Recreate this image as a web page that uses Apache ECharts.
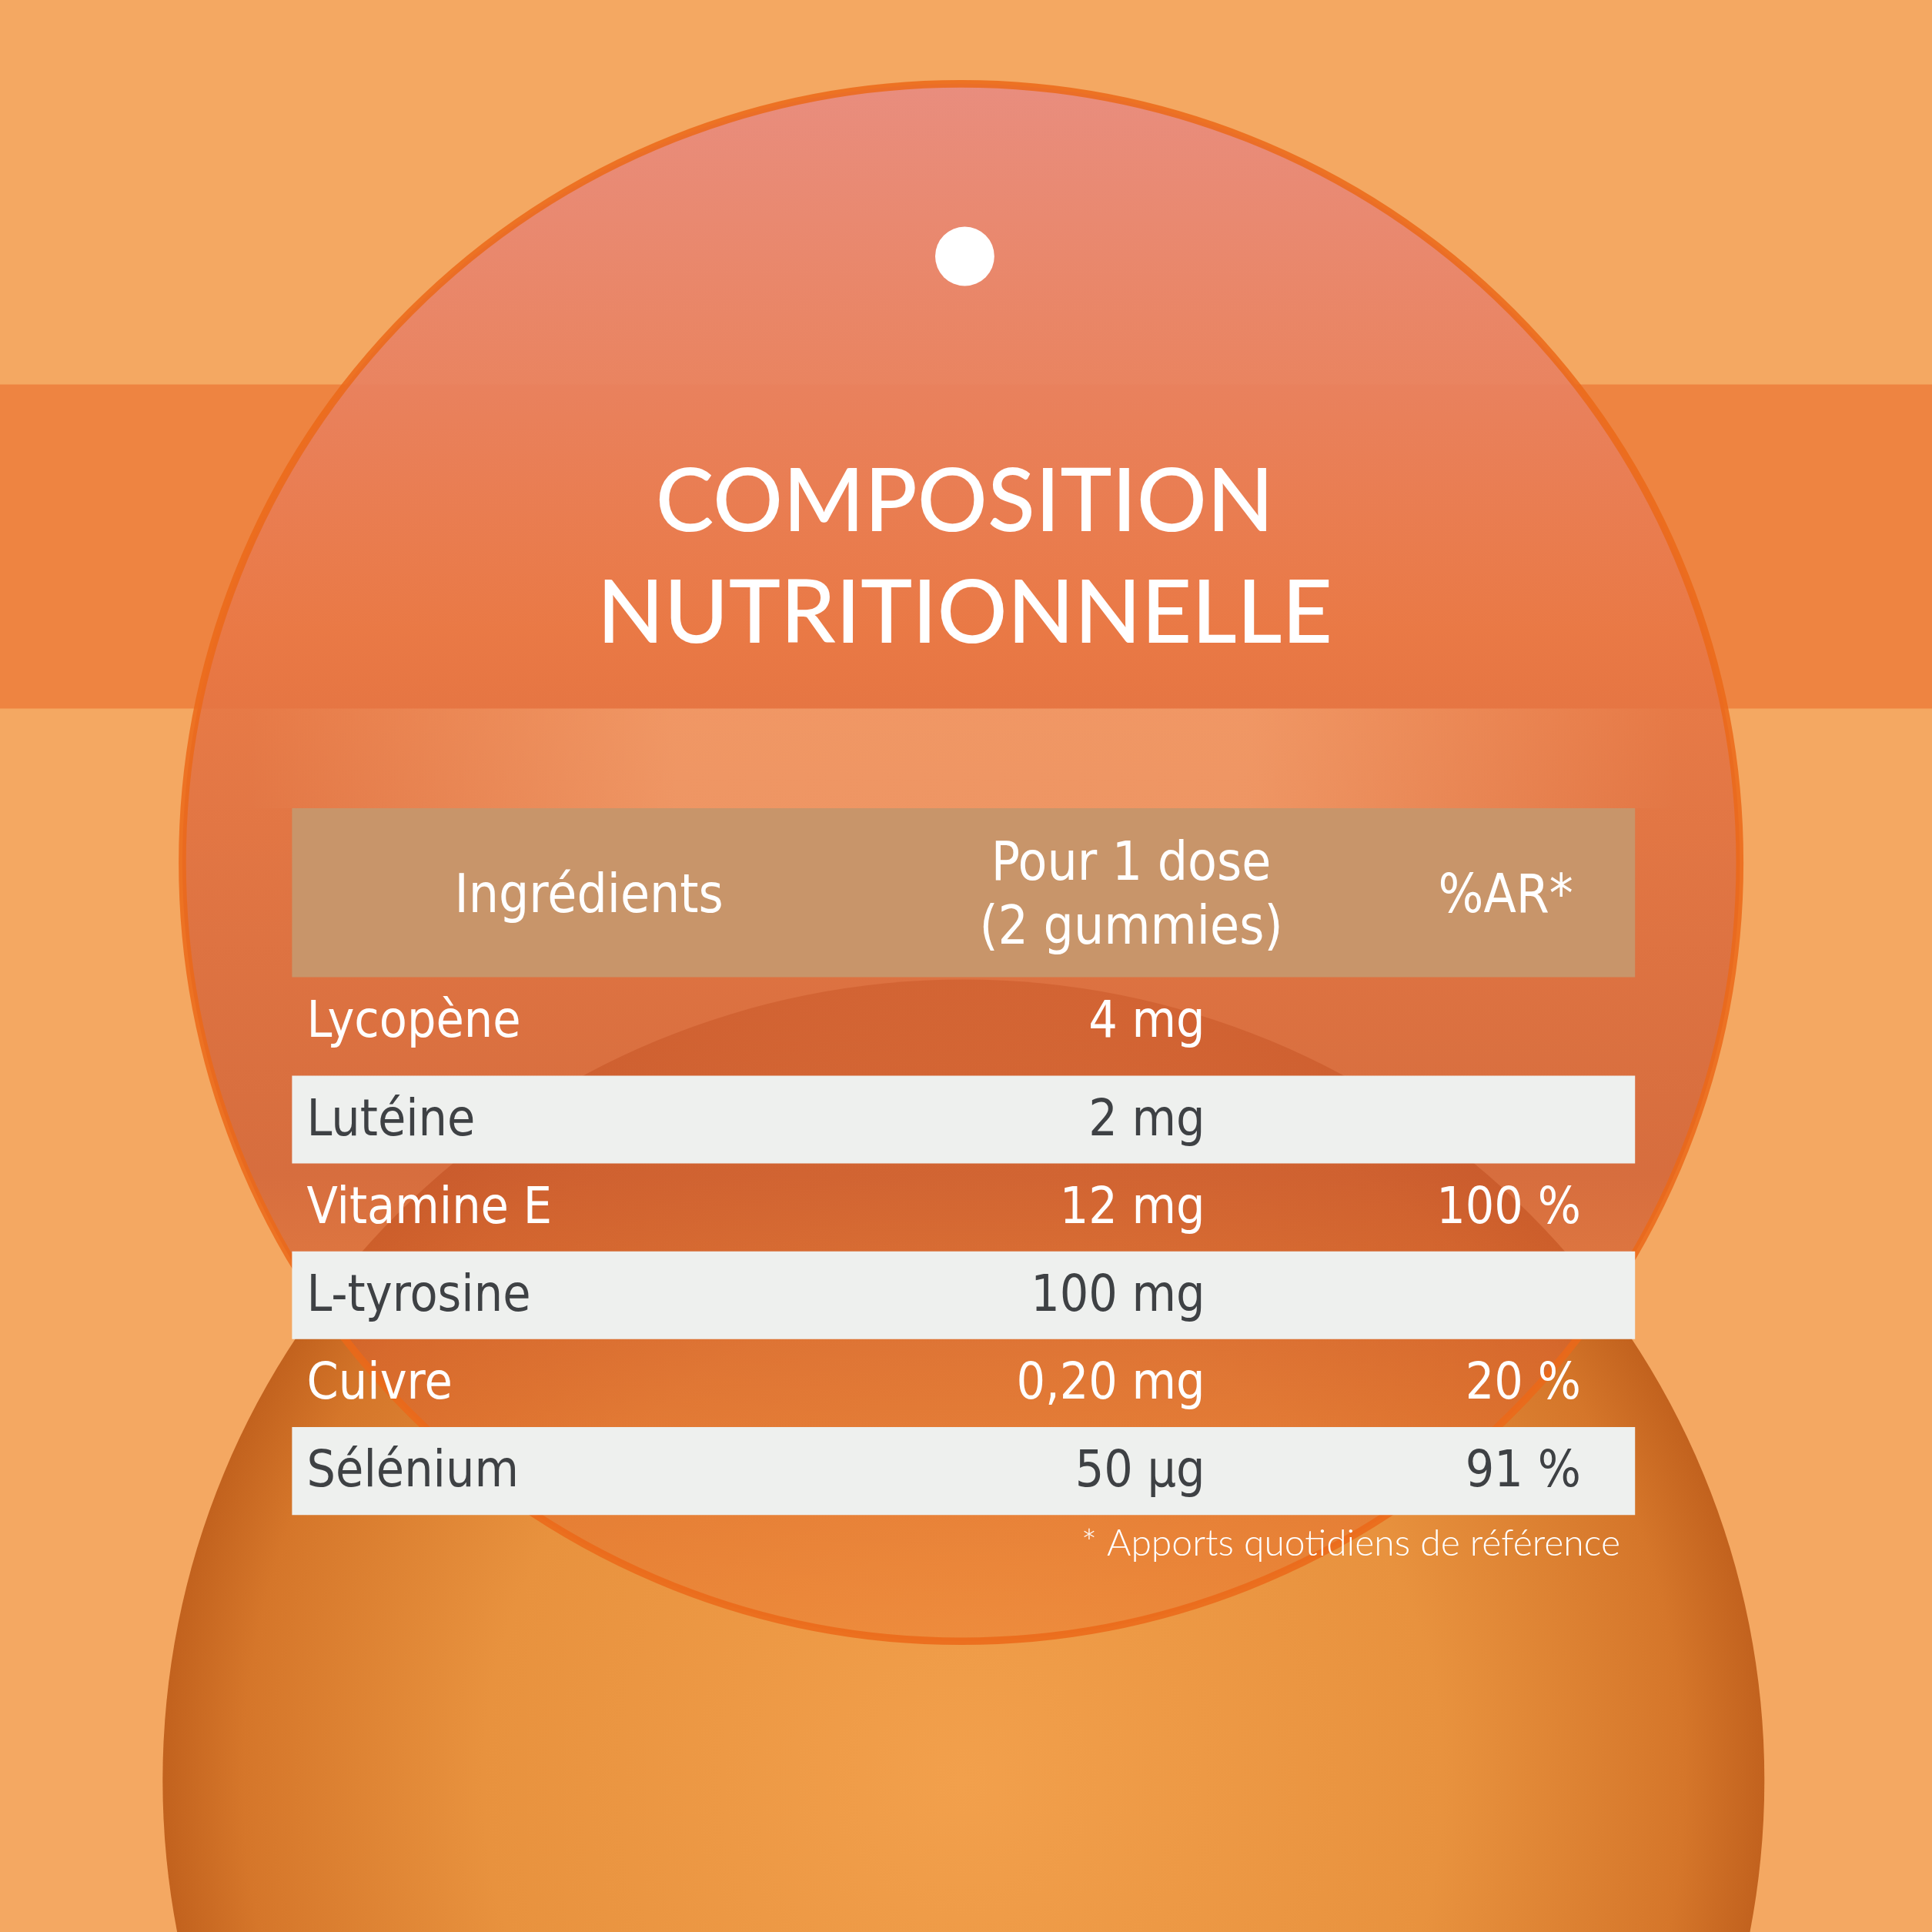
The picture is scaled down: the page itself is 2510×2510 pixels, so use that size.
<!DOCTYPE html>
<html><head><meta charset="utf-8">
<script src="https://cdn.jsdelivr.net/npm/echarts@6/dist/echarts.min.js"></script>
<style>html,body{margin:0;padding:0;background:#F4A862}#c{width:2510px;height:2510px}</style>
</head><body><div id="c"></div>
<script>
const titleLines = ['COMPOSITION', 'NUTRITIONNELLE'];
const headers = ['Ingrédients', 'Pour 1 dose\n(2 gummies)', '%AR*'];
const ingredients = ['Lycopène', 'Lutéine', 'Vitamine E', 'L-tyrosine', 'Cuivre', 'Sélénium'];
const amounts = ['4 mg', '2 mg', '12 mg', '100 mg', '0,20 mg', '50 µg'];
const percentAR = ['', '', '100 %', '', '20 %', '91 %'];
const footnote = '* Apports quotidiens de référence';

const s = 2510 / 1568;
const S = v => v * s;
const font = '"Liberation Sans Narrow","DejaVu Sans Condensed",sans-serif';
const g = [];
g.push({type:'rect', shape:{x:0,y:0,width:2510,height:2510}, style:{fill:'#F4A862'}});
g.push({type:'circle', shape:{cx:S(782), cy:S(1445), r:S(650)}, style:{fill:{type:'radial',x:0.5,y:0.5,r:0.5,colorStops:[
  {offset:0,color:'#F2A04C'},{offset:0.6,color:'#E8923E'},{offset:0.9,color:'#D5762A'},{offset:1,color:'#C2621E'}]}}});
g.push({type:'rect', shape:{x:0,y:S(312),width:2510,height:S(263)}, style:{fill:'rgba(236,120,55,0.75)'}});
g.push({type:'circle', shape:{cx:S(780), cy:S(700), r:S(632)}, style:{fill:{type:'linear',x:0,y:0,x2:0,y2:1,colorStops:[
  {offset:0,color:'rgba(232,140,128,0.95)'},{offset:0.35,color:'rgba(233,120,70,0.9)'},{offset:0.7,color:'rgba(205,90,50,0.75)'},{offset:1,color:'rgba(235,110,40,0.35)'}]},
  stroke:'rgba(235,105,25,0.85)', lineWidth:S(6)}});
g.push({type:'rect', shape:{x:S(200),y:S(575),width:S(1160),height:S(81)}, style:{fill:{type:'linear',x:0,y:0,x2:1,y2:0,colorStops:[
  {offset:0,color:'rgba(248,175,125,0)'},{offset:0.3,color:'rgba(248,175,125,0.55)'},{offset:0.7,color:'rgba(248,175,125,0.55)'},{offset:1,color:'rgba(248,175,125,0)'}]}}});
g.push({type:'circle', shape:{cx:S(783), cy:S(208), r:S(24)}, style:{fill:'#fff'}});
titleLines.forEach((t,i)=>g.push({type:'text', x:S(783), y:S(408+i*91), style:{text:t, fill:'#fff', font:`500 ${S(71)}px "Lato","Noto Sans",sans-serif`, textAlign:'center', textVerticalAlign:'middle'}}));
g.push({type:'rect', shape:{x:S(237),y:S(656),width:S(1090),height:S(137)}, style:{fill:'#C8956A'}});
const hx=[S(478),S(918),S(1222)];
headers.forEach((h,i)=>g.push({type:'text', x:hx[i], y:S(729), style:{text:h, fill:'#fff', font:`${S(43)}px ${font}`, lineHeight:S(52), textAlign:'center', textVerticalAlign:'middle'}}));
const rowTops = [793, 873, 944.3, 1015.6, 1086.9, 1158.2, 1229.5];
ingredients.forEach((n,i)=>{
  const y = rowTops[i], h = rowTops[i+1]-y, light = i%2===1, cy=S(i===0? y+38 : y+h/2+2);
  if(light) g.push({type:'rect', shape:{x:S(237),y:S(y),width:S(1090),height:S(h)}, style:{fill:'#EEF0EE'}});
  const col = light ? '#3E4144' : '#fff';
  const f = `${S(41)}px ${font}`;
  g.push({type:'text', x:S(249), y:cy, style:{text:n, fill:col, font:f, textVerticalAlign:'middle'}});
  g.push({type:'text', x:S(978), y:cy, style:{text:amounts[i], fill:col, font:f, textAlign:'right', textVerticalAlign:'middle'}});
  if(percentAR[i]) g.push({type:'text', x:S(1283), y:cy, style:{text:percentAR[i], fill:col, font:f, textAlign:'right', textVerticalAlign:'middle'}});
});
g.push({type:'text', x:S(1315), y:S(1253), style:{text:footnote, fill:'#fff', font:`300 ${S(30)}px "Lato","Noto Sans",sans-serif`, textAlign:'right', textVerticalAlign:'middle'}});
const chart = echarts.init(document.getElementById('c'));
chart.setOption({animation:false, graphic:g});
</script></body></html>
